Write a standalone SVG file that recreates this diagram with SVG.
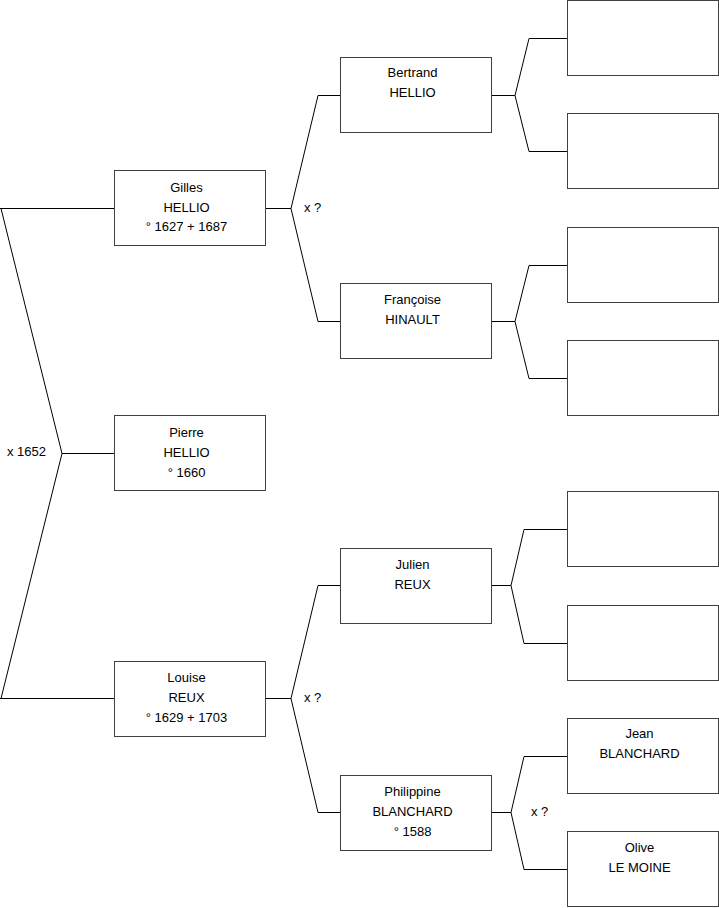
<svg xmlns="http://www.w3.org/2000/svg" width="719" height="908" viewBox="0 0 719 908">
<style>
.box{fill:#fff;stroke:#404040;stroke-width:1}
.ln{fill:none;stroke:#000;stroke-width:1}
text{font-family:"Liberation Sans",Arial,sans-serif;font-size:13px;fill:#000}
.c{text-anchor:middle}
</style>
<rect width="719" height="908" fill="#fff"/>
<g id="connectors">
<path class="ln" d="M0 208.5H114.5M0 698.5H114.5M1 208.5L62 453.5L1 698.5M62 453.5H114.5"/>
<path class="ln" d="M265.5 208.5H291L318 95.5H340.5M291 208.5L318 321.5H340.5"/>
<path class="ln" d="M265.5 698.5H291L318 585.5H340.5M291 698.5L318 812.5H340.5"/>
<path class="ln" d="M491.5 95.5H515L529 38.5H567.5M515 95.5L529 151.5H567.5"/>
<path class="ln" d="M491.5 321.5H515L529 265.5H567.5M515 321.5L529 378.5H567.5"/>
<path class="ln" d="M491.5 585.5H511L524 529.5H567.5M511 585.5L524 643.5H567.5"/>
<path class="ln" d="M491.5 812.5H511L524 756.5H567.5M511 812.5L524 869.5H567.5"/>
<text x="7" y="456">x 1652</text>
<text x="304" y="212">x ?</text>
<text x="304" y="702">x ?</text>
<text x="531" y="816">x ?</text>
</g>
<g id="gilles"><rect class="box" x="114.5" y="170.5" width="151" height="75"/>
<text class="c" x="186.5" y="192">Gilles</text><text class="c" x="186.5" y="212">HELLIO</text><text class="c" x="186.5" y="231">° 1627 + 1687</text></g>
<g id="pierre"><rect class="box" x="114.5" y="415.5" width="151" height="75"/>
<text class="c" x="186.5" y="437">Pierre</text><text class="c" x="186.5" y="457">HELLIO</text><text class="c" x="186.5" y="477">° 1660</text></g>
<g id="louise"><rect class="box" x="114.5" y="661.5" width="151" height="75"/>
<text class="c" x="186.5" y="682">Louise</text><text class="c" x="186.5" y="702">REUX</text><text class="c" x="186.5" y="722">° 1629 + 1703</text></g>
<g id="bertrand"><rect class="box" x="340.5" y="57.5" width="151" height="75"/>
<text class="c" x="412.5" y="77">Bertrand</text><text class="c" x="412.5" y="97">HELLIO</text></g>
<g id="francoise"><rect class="box" x="340.5" y="283.5" width="151" height="75"/>
<text class="c" x="412.5" y="304">Françoise</text><text class="c" x="412.5" y="324">HINAULT</text></g>
<g id="julien"><rect class="box" x="340.5" y="548.5" width="151" height="75"/>
<text class="c" x="412.5" y="569">Julien</text><text class="c" x="412.5" y="589">REUX</text></g>
<g id="philippine"><rect class="box" x="340.5" y="775.5" width="151" height="75"/>
<text class="c" x="412.5" y="796">Philippine</text><text class="c" x="412.5" y="816">BLANCHARD</text><text class="c" x="412.5" y="836">° 1588</text></g>
<g id="r1"><rect class="box" x="567.5" y="0.5" width="151" height="75"/></g>
<g id="r2"><rect class="box" x="567.5" y="113.5" width="151" height="75"/></g>
<g id="r3"><rect class="box" x="567.5" y="227.5" width="151" height="75"/></g>
<g id="r4"><rect class="box" x="567.5" y="340.5" width="151" height="75"/></g>
<g id="r5"><rect class="box" x="567.5" y="491.5" width="151" height="75"/></g>
<g id="r6"><rect class="box" x="567.5" y="605.5" width="151" height="75"/></g>
<g id="jean"><rect class="box" x="567.5" y="718.5" width="151" height="75"/>
<text class="c" x="639.5" y="738">Jean</text><text class="c" x="639.5" y="758">BLANCHARD</text></g>
<g id="olive"><rect class="box" x="567.5" y="831.5" width="151" height="75"/>
<text class="c" x="639.5" y="852">Olive</text><text class="c" x="639.5" y="872">LE MOINE</text></g>
</svg>
